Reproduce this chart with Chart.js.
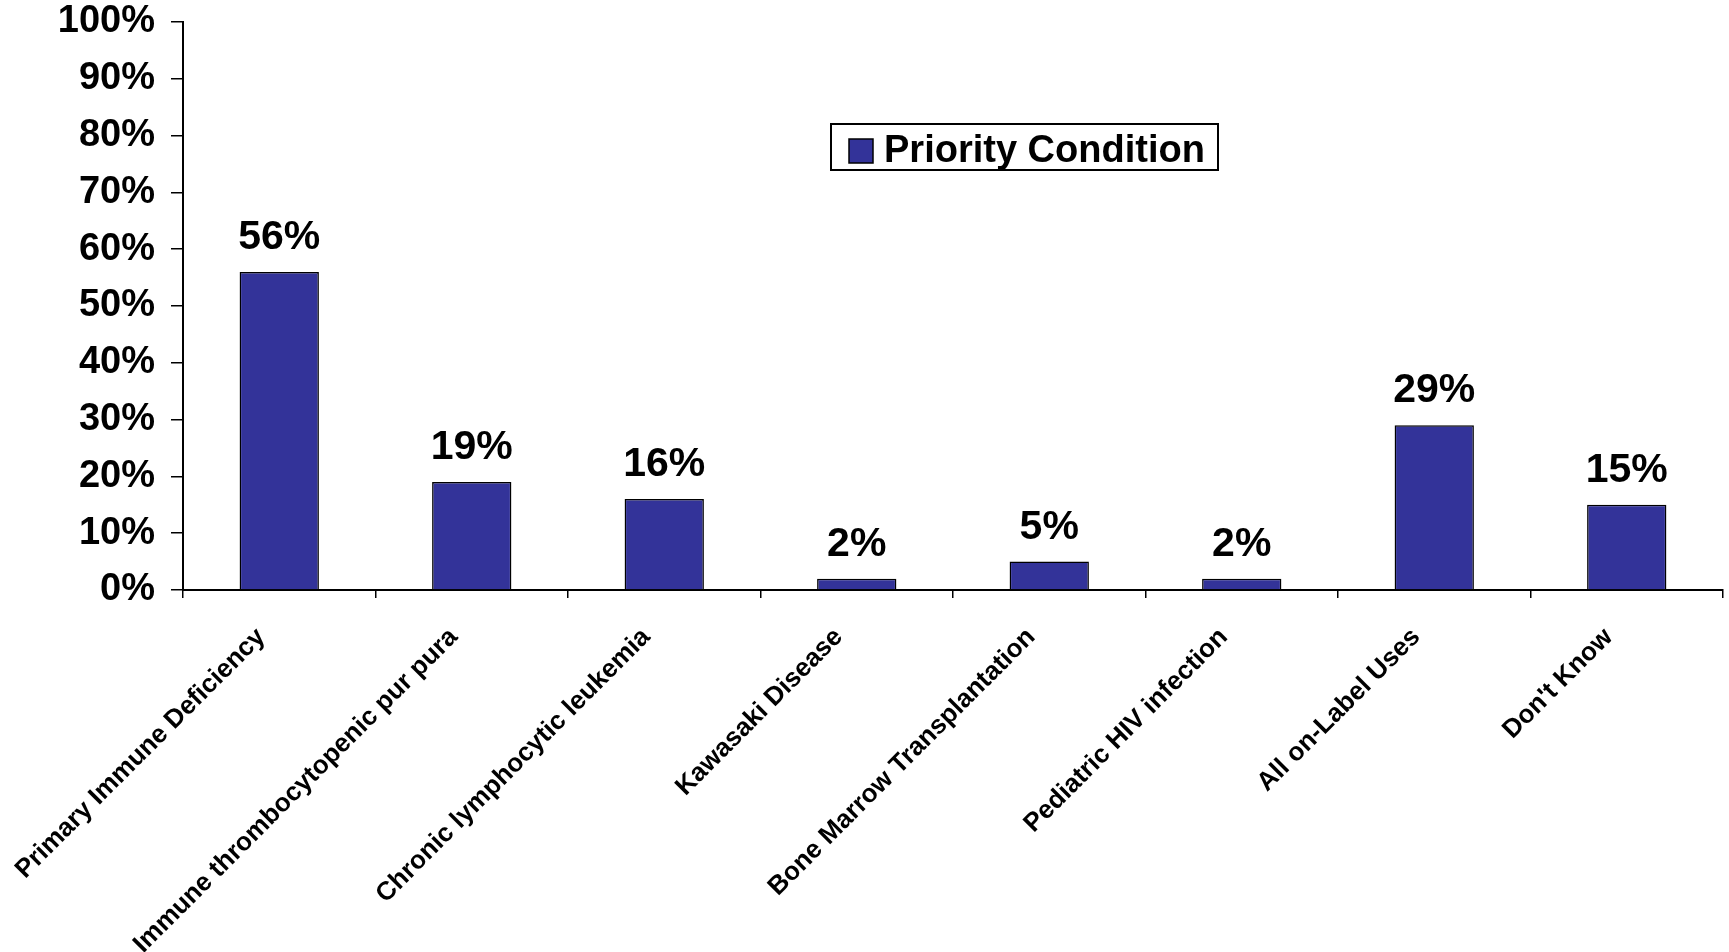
<!DOCTYPE html>
<html>
<head>
<meta charset="utf-8">
<title>Priority Condition</title>
<script src="https://cdn.jsdelivr.net/npm/chart.js@4.4.1/dist/chart.umd.min.js"></script>
<style>
  html, body { margin: 0; padding: 0; background: #ffffff; }
  #wrap { width: 1729px; height: 952px; position: relative; }
</style>
</head>
<body>
<div id="wrap"><canvas id="chart" width="1729" height="952"></canvas></div>
<script>
// Survey categories and the share of respondents for each
const categories = [
  'Primary Immune Deficiency',
  'Immune thrombocytopenic pur pura',
  'Chronic lymphocytic leukemia',
  'Kawasaki Disease',
  'Bone Marrow Transplantation',
  'Pediatric HIV infection',
  'All on-Label Uses',
  "Don't Know"
];
const seriesName = 'Priority Condition';
const shares = [56, 19, 16, 2, 5, 2, 29, 15];
const yTicks = [0, 10, 20, 30, 40, 50, 60, 70, 80, 90, 100];

const FONT = '"Liberation Sans", Arial, Helvetica, sans-serif';
const BAR_FILL = '#333399';

// Percentage labels above each bar
const valueLabels = {
  id: 'valueLabels',
  afterDatasetsDraw(chart) {
    const ctx = chart.ctx;
    const meta = chart.getDatasetMeta(0);
    const values = chart.data.datasets[0].data;
    ctx.save();
    ctx.font = 'bold 41px ' + FONT;
    ctx.fillStyle = '#000';
    ctx.textAlign = 'center';
    ctx.textBaseline = 'alphabetic';
    meta.data.forEach((bar, i) => {
      ctx.fillText(values[i] + '%', bar.x, bar.y - 23);
    });
    ctx.restore();
  }
};

// Framed legend drawn inside the plot area
const boxedLegend = {
  id: 'boxedLegend',
  afterDraw(chart, args, opts) {
    const ctx = chart.ctx;
    const ds = chart.data.datasets[0];
    ctx.save();
    ctx.fillStyle = '#fff';
    ctx.fillRect(opts.x, opts.y, opts.w, opts.h);
    ctx.lineWidth = 2;
    ctx.strokeStyle = '#000';
    ctx.strokeRect(opts.x, opts.y, opts.w, opts.h);
    const cy = opts.y + opts.h / 2 + 4;
    ctx.fillStyle = ds.backgroundColor;
    ctx.fillRect(opts.x + 18, cy - 12, 24, 24);
    ctx.lineWidth = 1.5;
    ctx.strokeRect(opts.x + 18, cy - 12, 24, 24);
    ctx.fillStyle = '#000';
    ctx.font = 'bold 38px ' + FONT;
    ctx.textAlign = 'left';
    ctx.textBaseline = 'middle';
    ctx.fillText(ds.label, opts.x + 53, cy + 1);
    ctx.restore();
  }
};

// Keep the plot frame fixed: drop the extra room scales ask for around their labels
function noScalePadding(scale) {
  scale.paddingLeft = 0;
  scale.paddingRight = 0;
  scale.paddingTop = 0;
  scale.paddingBottom = 0;
}

new Chart(document.getElementById('chart'), {
  type: 'bar',
  data: {
    labels: categories,
    datasets: [{
      label: seriesName,
      data: shares,
      backgroundColor: BAR_FILL,
      borderColor: '#000',
      borderWidth: 1.5,
      borderSkipped: 'bottom',
      categoryPercentage: 0.8,
      barPercentage: 0.515
    }]
  },
  options: {
    responsive: false,
    animation: false,
    layout: { padding: { top: 22, right: 6, left: 0, bottom: 0 } },
    plugins: {
      legend: { display: false },
      tooltip: { enabled: false },
      boxedLegend: { x: 831, y: 124, w: 387, h: 46 }
    },
    scales: {
      x: {
        offset: true,
        grid: {
          offset: true,
          drawOnChartArea: false,
          drawTicks: true,
          tickLength: 8,
          color: '#000',
          lineWidth: 1.5
        },
        border: { display: true, color: '#000', width: 2 },
        ticks: {
          color: '#000',
          font: { family: FONT, size: 26, weight: 'bold' },
          minRotation: 45,
          maxRotation: 45,
          autoSkip: false,
          padding: 24,
          labelOffset: -18
        },
        afterFit(scale) { scale.height = 362; noScalePadding(scale); }
      },
      y: {
        min: 0,
        max: 100,
        afterBuildTicks(scale) {
          scale.ticks = yTicks.map(v => ({ value: v }));
        },
        grid: {
          drawOnChartArea: false,
          drawTicks: true,
          tickLength: 12,
          color: '#000',
          lineWidth: 1.5
        },
        border: { display: true, color: '#000', width: 2 },
        ticks: {
          color: '#000',
          font: { family: FONT, size: 38, weight: 'bold' },
          padding: 16,
          callback: v => v + '%'
        },
        afterFit(scale) { scale.width = 183; noScalePadding(scale); }
      }
    }
  },
  plugins: [valueLabels, boxedLegend]
});
</script>
</body>
</html>
